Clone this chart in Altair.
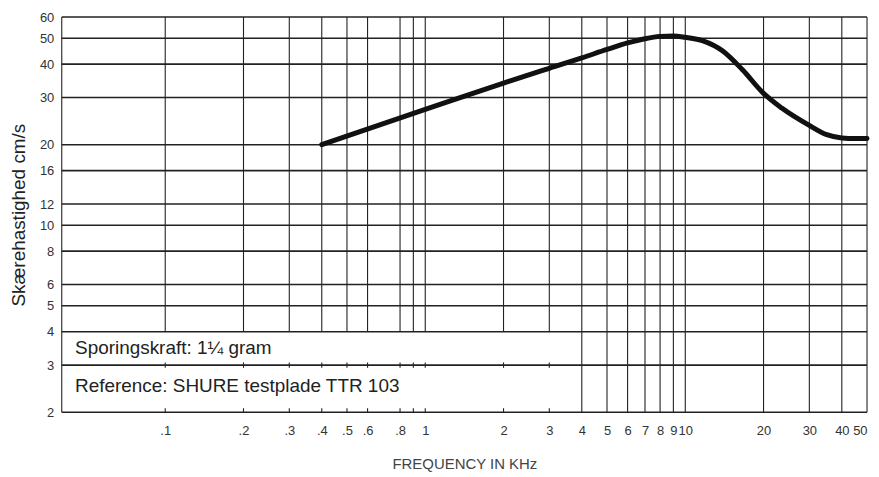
import altair as alt
import pandas as pd

# ---- data ----
freq_khz = [0.4, 1, 2, 3, 4, 5, 6, 7, 8, 9, 10, 11.7, 13.9, 16.6, 20, 23.5, 30, 35, 40, 45, 50]
speed_cms = [20, 27.1, 34.0, 38.6, 42.2, 45.4, 48.0, 49.8, 50.8, 51.0, 50.4, 48.9, 44.9, 38.1,
             31.1, 27.4, 23.6, 21.8, 21.2, 21.1, 21.1]

y_ticks = [60, 50, 40, 30, 20, 16, 12, 10, 8, 6, 5, 4, 3, 2]
x_ticks = [0.1, 0.2, 0.3, 0.4, 0.5, 0.6, 0.8, 1, 2, 3, 4, 5, 6, 7, 8, 9, 10, 20, 30, 40, 50]
x_grid_short = [0.1, 0.2, 0.3, 0.4, 0.5, 0.6, 0.8, 0.9, 1, 2, 3]
x_grid_full = [4, 5, 6, 7, 8, 9, 10, 20, 30, 40]
notes = ["Sporingskraft: 1\u00bc gram", "Reference: SHURE testplade TTR 103"]
note_y = [3.46, 2.5]

X_DOM = [0.04, 50]
Y_DOM = [2, 60]
W, H = 809, 397
FONT = "Liberation Sans"
INK = "#222222"

xs = alt.Scale(type="log", domain=X_DOM, nice=False)
ys = alt.Scale(type="log", domain=Y_DOM, nice=False)

hdf = pd.DataFrame({"v": y_ticks, "x0": X_DOM[0], "x1": X_DOM[1]})
vdf = pd.DataFrame(
    {"f": x_grid_short + x_grid_full + X_DOM,
     "ytop": Y_DOM[1],
     "ybot": [4] * len(x_grid_short) + [2] * len(x_grid_full) + [2, 2]}
)
tick_mid = pd.DataFrame({"f": x_grid_short, "a": 2.93, "b": 3.07})
tick_bot = pd.DataFrame({"f": x_grid_short, "a": 2.0, "b": 2.07})
curve = pd.DataFrame({"f": freq_khz, "v": speed_cms})
tdf = pd.DataFrame({"tx": 0.045, "ty": note_y, "label": notes})

yaxis = alt.Axis(values=y_ticks, title="Sk\u00e6rehastighed cm/s", ticks=False, domain=False,
                 grid=False, labelPadding=8, labelFontSize=13, labelFont=FONT, labelColor="#333",
                 titleFont=FONT, titleFontSize=19, titleFontWeight="normal", titleColor="#222",
                 titlePadding=11, labelOverlap=False)
xaxis = alt.Axis(values=x_ticks, title="FREQUENCY IN KHz", ticks=False, domain=False, grid=False,
                 labelPadding=12, labelFontSize=13, labelFont=FONT, labelColor="#333",
                 labelExpr="datum.value < 1 ? '.' + round(datum.value*10) : '' + datum.value",
                 titleFont=FONT, titleFontSize=15, titleFontWeight="normal", titleColor="#444",
                 titlePadding=20, labelOverlap=False, labelFlush=5)

X = lambda f: alt.X(f, scale=xs, axis=xaxis)
Y = lambda f: alt.Y(f, scale=ys, axis=yaxis)

hrules = alt.Chart(hdf).mark_rule(color=INK, strokeWidth=1.6).encode(
    y=Y("v:Q"), x=X("x0:Q"), x2="x1:Q")

vrules = alt.Chart(vdf).mark_rule(color=INK, strokeWidth=1.1).encode(
    x=X("f:Q"), y=Y("ytop:Q"), y2="ybot:Q")

t1 = alt.Chart(tick_mid).mark_rule(color=INK, strokeWidth=1.1).encode(
    x=X("f:Q"), y=Y("a:Q"), y2="b:Q")
t2 = alt.Chart(tick_bot).mark_rule(color=INK, strokeWidth=1.1).encode(
    x=X("f:Q"), y=Y("a:Q"), y2="b:Q")

line = alt.Chart(curve).mark_line(color="#111111", strokeWidth=5, interpolate="monotone",
                                  strokeCap="round").encode(
    x=X("f:Q"), y=Y("v:Q"))

text = alt.Chart(tdf).mark_text(align="left", baseline="middle", font=FONT, fontSize=19,
                                color="#222").encode(
    x=X("tx:Q"), y=Y("ty:Q"), text="label:N")

chart = alt.layer(hrules, vrules, t1, t2, line, text).properties(
    width=W, height=H,
    autosize=alt.AutoSizeParams(type="none"),
    padding={"left": 54, "top": 8, "right": 4, "bottom": 62},
    background="white",
).configure_view(stroke=None)

chart.save("out.html", embed_options={"renderer": "svg", "actions": False})
